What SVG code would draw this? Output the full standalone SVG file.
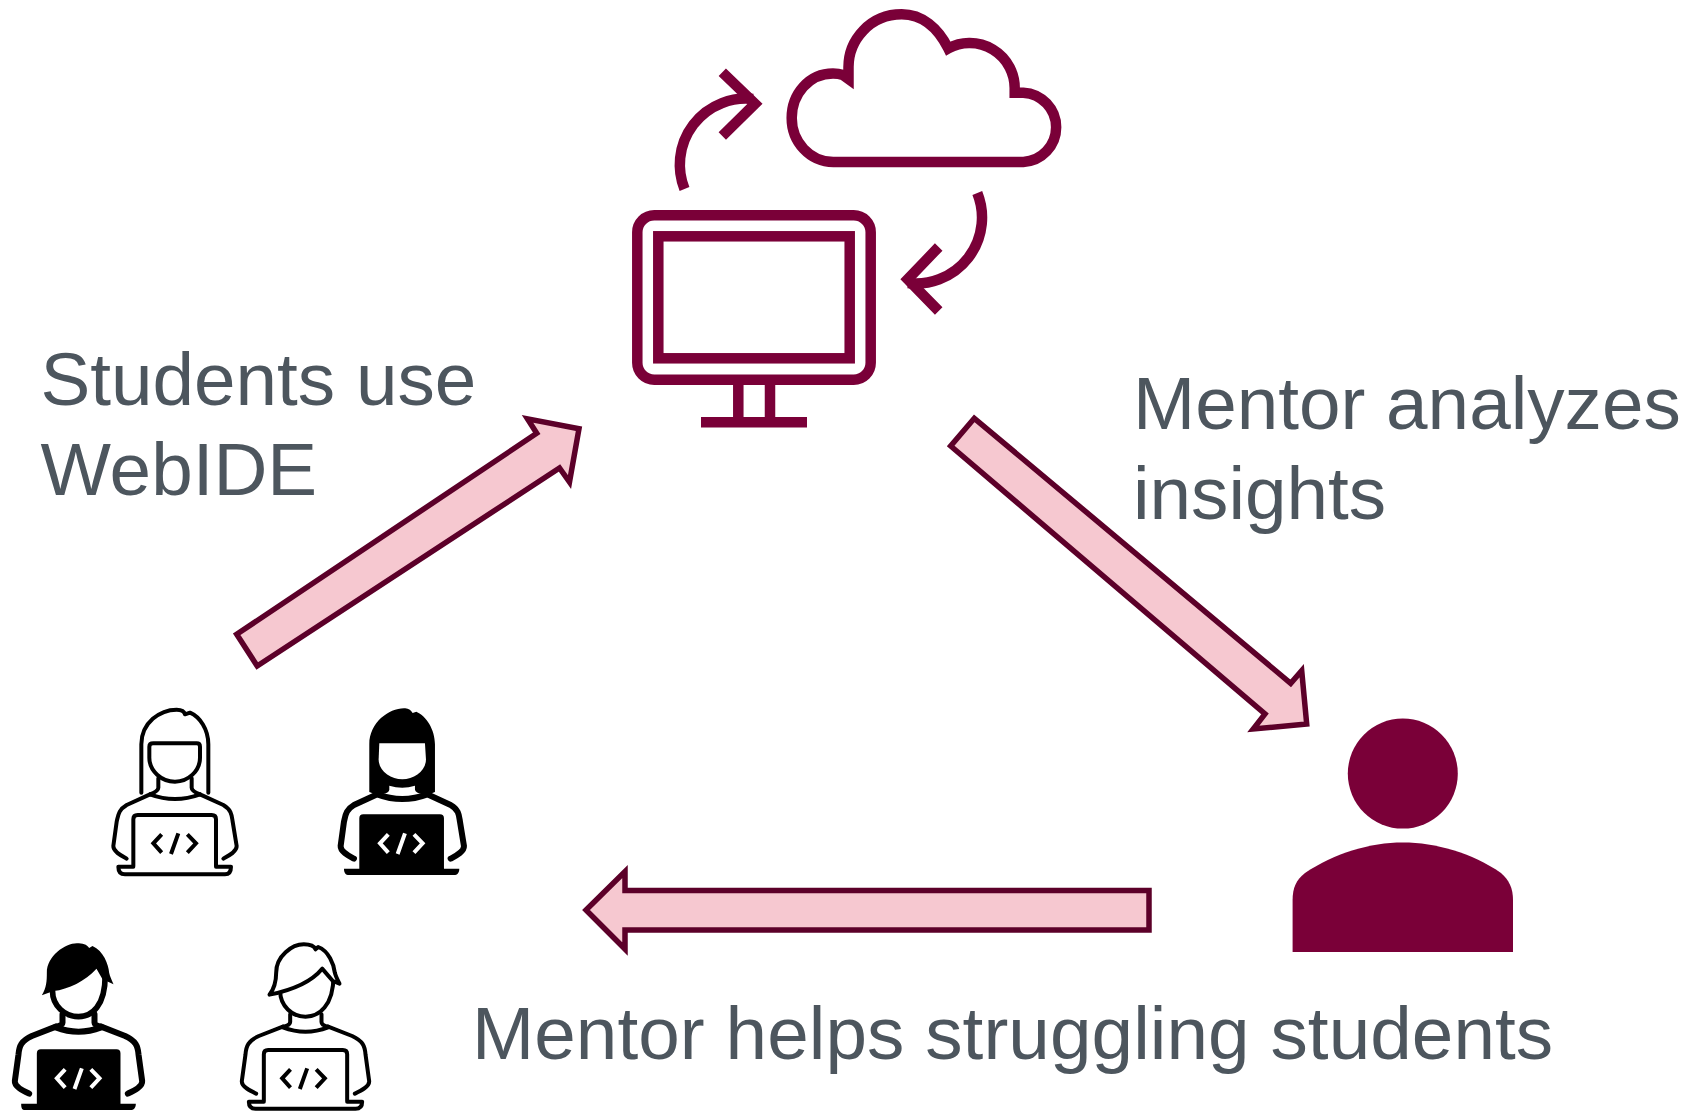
<svg xmlns="http://www.w3.org/2000/svg" xmlns:xlink="http://www.w3.org/1999/xlink" width="1702" height="1111" viewBox="0 0 1702 1111">
<style>
.t{font-family:"Liberation Sans",Arial,sans-serif;font-size:74.67px;fill:#4d565e}
.a{fill:#f6c8d0;stroke:#5c0029;stroke-width:5.5;stroke-linejoin:miter;stroke-miterlimit:10}
.m{fill:none;stroke:#7a0038;stroke-width:10.5;stroke-linejoin:miter}
.k{fill:none;stroke:#000;stroke-linecap:round;stroke-linejoin:round}
.o{stroke-width:12}
.b{stroke-width:18}
.w{fill:#fff;stroke:none}
.f{fill:#000;stroke:none}
.c{fill:none;stroke-width:12;stroke-linecap:butt;stroke-linejoin:miter}
</style>
<defs>
<path id="bodyF" d="M-75,310 L-145,342 C-170,357 -170,372 -175,392 L-185,465 C-186,482 -160,495 -145,503 M75,310 L145,342 C170,357 170,372 173,392 L185,465 C186,482 160,495 145,503 M-75,310 Q0,338 75,310"/>
<path id="bodyM" d="M-68,302 L-140,330 C-172,345 -178,360 -180,385 L-191,465 C-193,482 -165,495 -148,503 M68,302 L140,330 C172,345 178,360 180,385 L191,465 C193,482 165,495 148,503 M-68,304 Q0,330 68,304"/>
<path id="hairM" d="M-108,206 C-92,185 -88,165 -88,140 C-88,90 -40,55 -5,55 C12,55 25,58 30,70 L38,63 C70,75 85,115 88,140 C90,150 97,163 102,173 L82,165 L50,128 C20,165 -30,190 -108,206 Z"/>
<path id="code" d="M-40,-27 L-65,0 L-40,28 M10,-30 L-12,32 M37,-27 L63,0 L37,28"/>
</defs>

<g id="connectors">
<polygon id="arrow-students-webide" class="a" points="236.7,634.3 257.2,666 559.5,468 569.5,482 579,428.8 527.5,418.8 536.7,433.3"/>
<polygon id="arrow-mentor-analyzes" class="a" points="974.3,418.3 1290.7,683.3 1301.7,670.7 1306.7,724 1253.3,729 1265,714 950.7,446"/>
<polygon id="arrow-mentor-helps" class="a" points="1149,890.5 625,890.5 625,871.5 586,910 625,949 625,930 1149,930"/>
</g>

<g id="cloud">
<path class="m" d="M833.3,162 H1023.3 A34.7,34.7 0 0 0 1023.3,92.7 H1014.7 V88.3 A45,45 0 0 0 948.3,48.5 C938,28 922,14.3 901.7,14.3 C870,14.3 848.5,40 848.5,67 V79 L843,75 C840,74 836,73.5 833,73.5 C809,73.5 791.7,94 791.7,118 C791.7,142 810,162 833.3,162 Z"/>
</g>
<g id="sync-up">
<path class="m" d="M684.5,189 A66,66 0 0 1 753,99"/>
<path class="m" d="M722.3,72.3 L755,103.7 L722.3,136"/>
</g>
<g id="sync-down">
<path class="m" d="M977.3,193 A66,66 0 0 1 908,283"/>
<path class="m" d="M938.7,247 L907.7,279.3 L938.7,311"/>
</g>
<g id="monitor">
<rect class="m" x="637.3" y="215.3" width="233.4" height="164.4" rx="17"/>
<rect class="m" x="658.3" y="236.3" width="191.4" height="122"/>
<path class="m" d="M738.3,380 V422 M770,380 V422 M701,422.2 H807"/>
</g>
<g id="mentor">
<circle cx="1402.8" cy="773.6" r="55" fill="#7a0038"/>
<path fill="#7a0038" d="M1292.6,952 L1292.6,900 C1292.6,888 1296,880 1305,873 C1335,853 1370,842.5 1402.8,842.5 C1436,842.5 1472,853 1501,873 C1509,880 1513,888 1513,900 L1513,952 Z"/>
</g>

<g id="student-1" transform="translate(175,691) scale(0.3333)">
<path class="k o" d="M-101,305 L-101,160 C-101,95 -45,56 5,56 C15,56 27,58 30,70 L45,65 C75,78 100,115 100,160 L100,305"/>
<path class="k o" d="M-65,157 L65,157 Q75,157 75,167 L75,200 C75,240 40,272 0,272 C-40,272 -77,240 -77,200 L-77,167 Q-77,157 -65,157 Z"/>
<path class="k o" d="M-50,262 L-50,290 Q-50,300 -75,310 M50,262 L50,290 Q50,300 75,310"/>
<use href="#bodyF" class="k o"/>
<path class="k o" d="M-125,525 L-125,385 Q-125,372 -112,372 L110,372 Q123,372 123,385 L123,525 M-170,527 L-125,527 M123,527 L168,527 M-170,527 C-170,550 -155,550 -150,550 L150,550 C165,550 168,540 168,527"/>
<use href="#code" transform="translate(0,457)" class="k o" style="stroke-linecap:butt;stroke-linejoin:miter"/>
</g>

<g id="student-2" transform="translate(402.3,691) scale(0.3333)">
<path class="f" d="M-99,303 L-99,160 C-99,95 -40,52 5,52 C15,52 25,55 31,66 L42,62 C72,75 98,115 98,160 L98,303 L60,318 L-60,318 Z"/>
<path class="w" d="M-69,157 L68,157 L71,205 C71,240 35,265 0,265 C-35,265 -71,240 -71,205 Z"/>
<path class="w" d="M-39,284 Q0,296 38,284 L38,296 Q40,305 60,310 Q0,325 -60,310 Q-40,305 -39,296 Z"/>
<use href="#bodyF" class="k b"/>
<path class="f" d="M-129,382 Q-129,370 -117,370 L113,370 Q125,370 125,382 L125,533 L171,533 C171,545 165,552 155,552 L-160,552 C-170,552 -175,545 -175,533 L-129,533 Z"/>
<use href="#code" transform="translate(-2,457)" class="k c" style="stroke:#fff"/>
</g>

<g id="student-3" transform="translate(78.5,926) scale(0.3333)">
<path class="f" d="M-110,208 C-96,185 -95,165 -95,140 C-95,90 -40,52 -5,52 C12,52 25,55 32,66 L42,60 C75,75 90,115 92,140 C94,150 100,163 105,175 L72,160 L54,128 C20,165 -30,190 -75,195 Z"/>
<path class="k b" style="stroke-width:17" d="M-78,195 C-78,240 -40,272 0,272 C40,272 80,240 80,150"/>
<path class="k b" d="M-48,265 L-48,290 Q-48,298 -68,302 M48,265 L48,290 Q48,298 68,302"/>
<use href="#bodyM" class="k b"/>
<path class="f" d="M-125,382 Q-125,370 -113,370 L114,370 Q126,370 126,382 L126,533 L172,533 C172,545 166,552 156,552 L-160,552 C-170,552 -172,545 -172,533 L-125,533 Z"/>
<use href="#code" transform="translate(0,457)" class="k c" style="stroke:#fff"/>
</g>

<g id="student-4" transform="translate(305.5,926) scale(0.3333)">
<path class="k o" d="M-76,195 C-76,240 -40,272 0,272 C40,272 84,240 84,150"/>
<use href="#hairM" class="k o" style="fill:#fff"/>
<path class="k o" d="M-46,265 L-46,288 Q-46,298 -68,302 M48,265 L48,288 Q48,298 68,302"/>
<use href="#bodyM" class="k o"/>
<path class="k o" d="M-125,525 L-125,385 Q-125,372 -112,372 L112,372 Q125,372 125,385 L125,525 M-170,527 L-125,527 M125,527 L170,527 M-170,527 C-170,548 -155,548 -150,548 L150,548 C165,548 170,540 170,527"/>
<use href="#code" transform="translate(-5,457)" class="k c" style="stroke:#000"/>
</g>

<g id="labels">
<text class="t" x="40.5" y="405">Students use</text>
<text class="t" x="40.5" y="495">WebIDE</text>
<text class="t" x="1133" y="429">Mentor analyzes</text>
<text class="t" x="1133" y="519">insights</text>
<text class="t" x="472" y="1059" style="letter-spacing:0.07px">Mentor helps struggling students</text>
</g>
</svg>
